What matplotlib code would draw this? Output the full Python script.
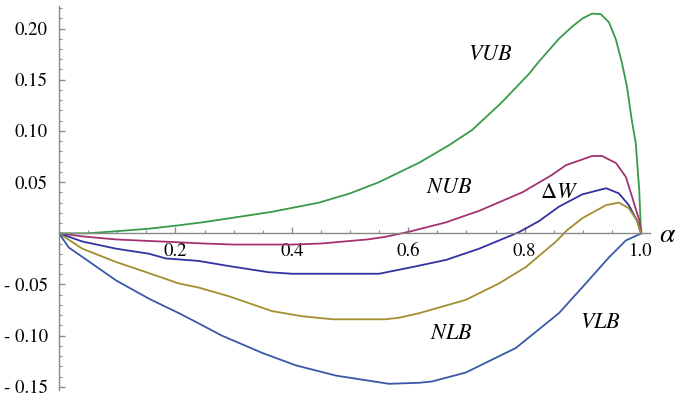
import matplotlib
matplotlib.use("Agg")
import matplotlib.pyplot as plt
from matplotlib.ticker import MultipleLocator, FixedLocator

plt.rcParams['font.family'] = ['STIXGeneral', 'DejaVu Serif']
plt.rcParams['mathtext.fontset'] = 'stix'

# values
vub_x = [0.0, 0.05, 0.098, 0.155, 0.206, 0.25, 0.292, 0.366, 0.447, 0.50, 0.55, 0.579,
         0.619, 0.67, 0.71, 0.761, 0.808, 0.825, 0.859, 0.882, 0.90, 0.916, 0.931,
         0.945, 0.957, 0.967, 0.976, 0.984, 0.991, 0.997, 1.0]
vub_y = [0.0, 0.0, 0.002, 0.0045, 0.0078, 0.011, 0.0146, 0.021, 0.030, 0.039, 0.050,
         0.058, 0.069, 0.086, 0.101, 0.128, 0.156, 0.168, 0.190, 0.202, 0.210, 0.2146,
         0.214, 0.206, 0.189, 0.167, 0.143, 0.111, 0.088, 0.042, 0.0]

nub_x = [0.0, 0.04, 0.098, 0.155, 0.206, 0.25, 0.30, 0.40, 0.45, 0.49, 0.53, 0.56,
         0.602, 0.665, 0.722, 0.796, 0.847, 0.871, 0.916, 0.933, 0.957, 0.974, 0.985,
         0.997, 1.0]
nub_y = [0.0, -0.003, -0.006, -0.0075, -0.0088, -0.010, -0.011, -0.011, -0.010,
         -0.008, -0.006, -0.0035, 0.0016, 0.0107, 0.022, 0.040, 0.057, 0.0665, 0.0755,
         0.0755, 0.0686, 0.055, 0.035, 0.0127, 0.0]

dw_x = [0.0, 0.04, 0.098, 0.155, 0.183, 0.24, 0.292, 0.36, 0.40, 0.55, 0.607, 0.665,
        0.722, 0.79, 0.825, 0.859, 0.899, 0.94, 0.962, 0.979, 0.993, 1.0]
dw_y = [0.0, -0.008, -0.015, -0.020, -0.0245, -0.027, -0.032, -0.038, -0.0395,
        -0.0395, -0.033, -0.026, -0.015, 0.001, 0.012, 0.026, 0.038, 0.044, 0.039,
        0.0275, 0.0127, 0.0]

nlb_x = [0.0, 0.04, 0.098, 0.155, 0.206, 0.24, 0.292, 0.366, 0.418, 0.47, 0.56, 0.584,
         0.619, 0.699, 0.756, 0.802, 0.854, 0.873, 0.899, 0.94, 0.962, 0.979, 0.993,
         1.0]
nlb_y = [0.0, -0.015, -0.028, -0.039, -0.049, -0.053, -0.0615, -0.076, -0.081, -0.084,
         -0.084, -0.0825, -0.078, -0.065, -0.049, -0.033, -0.008, 0.003, 0.0147, 0.0275,
         0.030, 0.0245, 0.0127, 0.0]

vlb_x = [0.0, 0.017, 0.04, 0.098, 0.155, 0.206, 0.24, 0.28, 0.35, 0.407, 0.476, 0.51,
         0.567, 0.619, 0.641, 0.699, 0.785, 0.859, 0.905, 0.945, 0.974, 0.997, 1.0]
vlb_y = [0.0, -0.014, -0.023, -0.046, -0.064, -0.078, -0.088, -0.100, -0.117, -0.129,
         -0.139, -0.142, -0.147, -0.146, -0.1447, -0.136, -0.112, -0.078, -0.049,
         -0.0235, -0.007, -0.001, 0.0]

x_ticks = [0.2, 0.4, 0.6, 0.8, 1.0]
x_tick_labels = ['0.2', '0.4', '0.6', '0.8', '1.0']
y_ticks = [-0.15, -0.10, -0.05, 0.05, 0.10, 0.15, 0.20]
y_tick_labels = ['- 0.15', '- 0.10', '- 0.05', '0.05', '0.10', '0.15', '0.20']

fig = plt.figure(figsize=(6.85, 4.0), dpi=100)
ax = fig.add_axes([59 / 685, 8 / 400, (1.05 * 582) / 685, 386 / 400])
ax.set_xlim(0, 1.05)
ax.set_ylim(-0.155, 0.222)

lw = 1.3
ax.plot(vub_x, vub_y, color='#3a9a4a', lw=lw)
ax.plot(nub_x, nub_y, color='#a33370', lw=lw)
ax.plot(dw_x, dw_y, color='#3232a0', lw=lw)
ax.plot(nlb_x, nlb_y, color='#a08e30', lw=lw)
ax.plot(vlb_x, vlb_y, color='#3a58a8', lw=lw)

for s in ['top', 'right']:
    ax.spines[s].set_visible(False)
ax.spines['left'].set_position(('data', 0))
ax.spines['bottom'].set_position(('data', 0))
ax.spines['left'].set_bounds(-0.153, 0.222)
ax.spines['bottom'].set_bounds(0, 1.015)
for s in ['left', 'bottom']:
    ax.spines[s].set_color('#8a8a8a')
    ax.spines[s].set_linewidth(1.0)

ax.xaxis.set_major_locator(FixedLocator(x_ticks))
ax.set_xticklabels(x_tick_labels)
ax.xaxis.set_minor_locator(MultipleLocator(0.05))
ax.yaxis.set_major_locator(FixedLocator(y_ticks))
ax.set_yticklabels(y_tick_labels)
ax.yaxis.set_minor_locator(MultipleLocator(0.01))

ax.tick_params(axis='both', which='both', direction='in', color='#8a8a8a',
               labelsize=13.5, labelcolor='black')
ax.tick_params(axis='both', which='major', length=4, width=1.0)
ax.tick_params(axis='both', which='minor', length=2.5, width=0.8)
ax.tick_params(axis='x', pad=7)
ax.tick_params(axis='y', pad=8)

lab = dict(fontsize=16, ha='center', va='center')
ax.text(0.742, 0.174, r'$VUB$', **lab)
ax.text(0.67, 0.044, r'$NUB$', **lab)
ax.text(0.859, 0.039, r'$\Delta W$', **lab)
ax.text(0.675, -0.098, r'$NLB$', **lab)
ax.text(0.931, -0.088, r'$VLB$', **lab)
ax.text(1.045, -0.002, r'$\alpha$', fontsize=20, ha='center', va='center')

fig.savefig('out.png', dpi=100)
